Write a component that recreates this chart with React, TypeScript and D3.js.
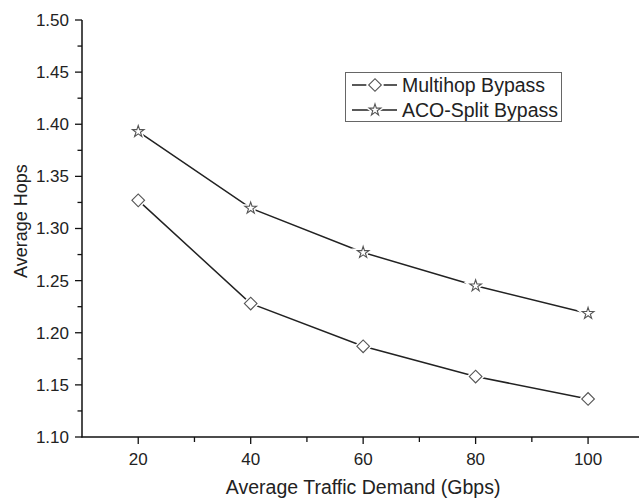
import React from "react";
import * as d3 from "d3";

const demands = [20, 40, 60, 80, 100];
const multihop = [1.327, 1.228, 1.187, 1.158, 1.1365];
const acoSplit = [1.393, 1.3195, 1.277, 1.245, 1.2185];
const seriesNames = ["Multihop Bypass", "ACO-Split Bypass"];
const xMajorTicks = [20, 40, 60, 80, 100];
const xMinorTicks = [30, 50, 70, 90];
const yMajorTicks = [1.1, 1.15, 1.2, 1.25, 1.3, 1.35, 1.4, 1.45, 1.5];
const yMinorTicks = [1.125, 1.175, 1.225, 1.275, 1.325, 1.375, 1.425, 1.475];

const W = 639;
const H = 502;
const FONT = "'Liberation Sans', Arial, sans-serif";

export default function App() {
  const x = d3.scaleLinear().domain([10, 110]).range([82, 644.3]);
  const y = d3.scaleLinear().domain([1.1, 1.5]).range([437, 20]);
  const line = d3
    .line<number>()
    .x((_, i) => x(demands[i]))
    .y((v) => y(v));

  const diamond = d3.symbol(d3.symbolSquare, 80)() as string;
  const star = d3.symbol(d3.symbolStar, 42)() as string;

  const series = [
    { name: seriesNames[0], values: multihop, path: diamond, rot: 45 },
    { name: seriesNames[1], values: acoSplit, path: star, rot: 0 },
  ];

  const x0 = x.range()[0];
  const y0 = y.range()[0];

  return (
    <svg
      width={W}
      height={H}
      style={{ position: "absolute", left: 0, top: 0, background: "#fff" }}
      fontFamily={FONT}
    >
      <rect x={0} y={0} width={W} height={H} fill="#fff" />
      {series.map((s) => (
        <path
          key={s.name + "l"}
          d={line(s.values) as string}
          fill="none"
          stroke="#222"
          strokeWidth={1.5}
        />
      ))}
      {series.map((s) =>
        s.values.map((v, i) => (
          <g
            key={s.name + i}
            transform={`translate(${x(demands[i])},${y(v)}) rotate(${s.rot})`}
          >
            <path d={s.path} fill="#fff" stroke="#fff" strokeWidth={4} />
            <path d={s.path} fill="#fff" stroke="#555" strokeWidth={1.1} />
          </g>
        ))
      )}
      <line x1={x0} x2={x0} y1={y.range()[1]} y2={y0 + 0.5} stroke="#111" strokeWidth={1.5} />
      <line x1={x0 - 0.5} x2={W + 10} y1={y0} y2={y0} stroke="#111" strokeWidth={1.5} />
      {yMajorTicks.map((t) => (
        <g key={"ym" + t}>
          <line x1={x0 - 7} x2={x0} y1={y(t)} y2={y(t)} stroke="#111" strokeWidth={1.3} />
          <text
            x={x0 - 13}
            y={y(t)}
            dy="0.35em"
            textAnchor="end"
            fontSize={17}
            fill="#222"
          >
            {t.toFixed(2)}
          </text>
        </g>
      ))}
      {yMinorTicks.map((t) => (
        <line key={"yn" + t} x1={x0 - 4.5} x2={x0} y1={y(t)} y2={y(t)} stroke="#111" strokeWidth={1.3} />
      ))}
      {xMajorTicks.map((t) => (
        <g key={"xm" + t}>
          <line x1={x(t)} x2={x(t)} y1={y0} y2={y0 + 7} stroke="#111" strokeWidth={1.3} />
          <text x={x(t)} y={465} textAnchor="middle" fontSize={17} fill="#222">
            {t}
          </text>
        </g>
      ))}
      {xMinorTicks.map((t) => (
        <line key={"xn" + t} x1={x(t)} x2={x(t)} y1={y0} y2={y0 + 5} stroke="#111" strokeWidth={1.3} />
      ))}
      <text x={x(60)} y={494} textAnchor="middle" fontSize={19.5} fill="#222">
        Average Traffic Demand (Gbps)
      </text>
      <text
        transform={`translate(27,${221}) rotate(-90)`}
        textAnchor="middle"
        fontSize={18}
        fill="#222"
      >
        Average Hops
      </text>
      <rect x={345.5} y={72.5} width={216} height={49} fill="#fff" stroke="#666" strokeWidth={1} />
      {series.map((s, i) => {
        const ly = 85 + i * 25;
        return (
          <g key={s.name + "leg"}>
            <line x1={352} x2={397} y1={ly} y2={ly} stroke="#222" strokeWidth={1.5} />
            <g transform={`translate(375,${ly}) rotate(${s.rot})`}>
              <path d={s.path} fill="#fff" stroke="#fff" strokeWidth={4} />
              <path d={s.path} fill="#fff" stroke="#555" strokeWidth={1.1} />
            </g>
            <text x={402} y={ly} dy="0.35em" fontSize={19.5} fill="#222">
              {s.name}
            </text>
          </g>
        );
      })}
    </svg>
  );
}
